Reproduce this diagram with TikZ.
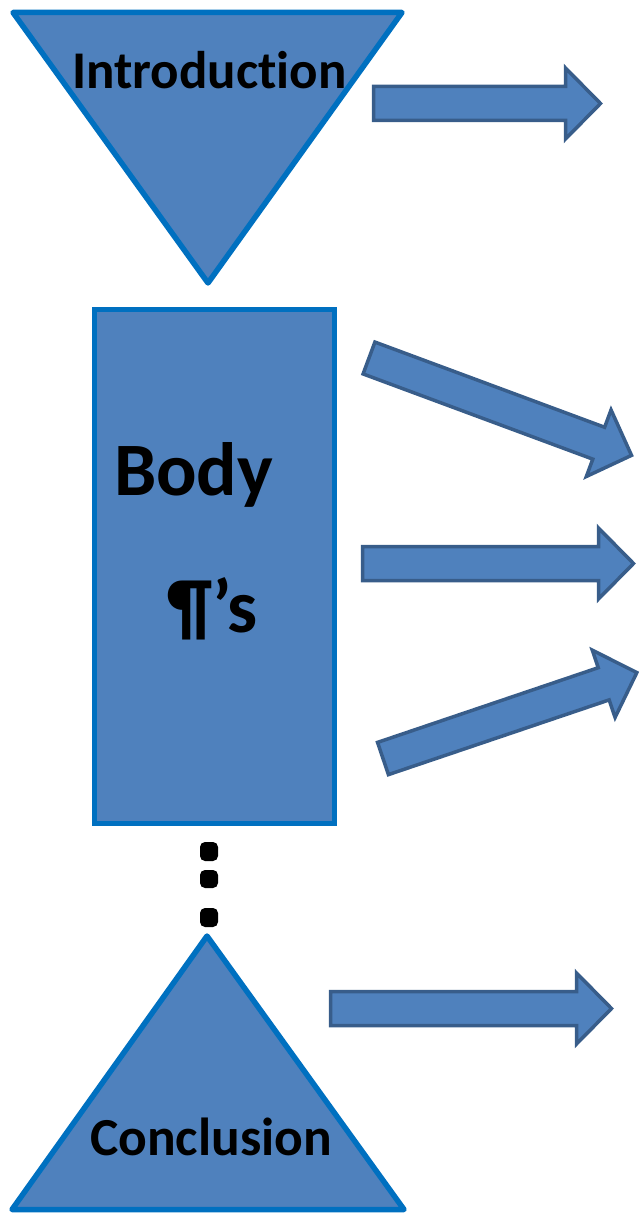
\documentclass[tikz,border=0pt]{standalone}
\usepackage{fontspec}
\setmainfont{Carlito}[Ligatures=NoCommon]
\definecolor{fillblue}{HTML}{4F81BD}
\definecolor{edgeblue}{HTML}{0070C0}
\definecolor{arrowedge}{HTML}{385D8A}
\newcommand\blockarr[3]{%
  \draw[blockarrow, shift={(#1)}, rotate=#2]
    (0,17) -- ({#3-35},17) -- ({#3-35},35.5) -- (#3,0) -- ({#3-35},-35.5)
    -- ({#3-35},-17) -- (0,-17) -- cycle;}
\begin{document}
\begin{tikzpicture}[x=1pt,y=-1pt,
  shapebox/.style={fill=fillblue, draw=edgeblue, line width=5.5pt, line join=round},
  blockarrow/.style={fill=fillblue, draw=arrowedge, line width=3.5pt, line join=miter},
  lbl/.style={inner sep=0pt, outer sep=0pt, anchor=base west, text=black},
  dot/.style={fill=black, rounded corners=5pt}]
\useasboundingbox (0,0) rectangle (638,1214);

% Introduction (inverted triangle)
\draw[shapebox] (13,12.5) -- (402,12.5) -- (208,283) -- cycle;
\node[lbl, font={\fontsize{53}{60}\selectfont\bfseries}] (intro) at (72,89) {Introduction};

% Body rectangle
\draw[shapebox, line join=miter] (94.5,309.5) rectangle (334.5,823.5);
\node[lbl, font={\fontsize{75.5}{80}\selectfont\bfseries}] (body) at (114,495) {Body};
\node[lbl, font={\fontsize{75.5}{80}\selectfont\bfseries}] (para) at (167,632) {¶’s};

% dots
\fill[dot] (200,842) rectangle (218,861);
\fill[dot] (200,870) rectangle (218,888);
\fill[dot] (200,908) rectangle (218,927);

% Conclusion triangle
\draw[shapebox] (207,936) -- (404,1209.5) -- (12,1209.5) -- cycle;
\node[lbl, font={\fontsize{53.5}{60}\selectfont\bfseries}] (concl) at (90,1155) {Conclusion};

% block arrows
\blockarr{373.5,103.5}{0}{227}
\blockarr{369,358}{-20.35}{280}
\blockarr{362.5,563.5}{0}{271}
\blockarr{383,758.5}{18.7}{268}
\blockarr{330.5,1008.5}{0}{281}
\end{tikzpicture}
\end{document}
